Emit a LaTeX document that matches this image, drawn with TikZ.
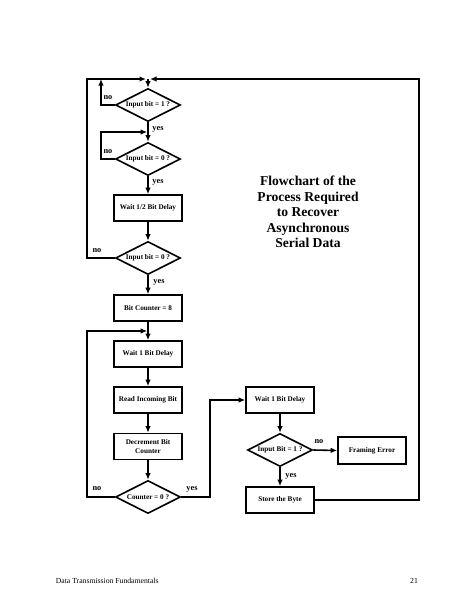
\documentclass[tikz,border=0pt]{standalone}
\usepackage{fontspec}
\setmainfont{Liberation Serif}
\usetikzlibrary{shapes.geometric,arrows.meta}
\begin{document}
\begin{tikzpicture}[x=1pt,y=-1pt,
  line width=1.6pt,
  arr/.style={-{Latex[length=6.5pt,width=5.5pt]}},
  box/.style={draw,rectangle,minimum width=68pt,minimum height=26pt,inner sep=1pt,align=center,font=\fontsize{7.2}{9}\selectfont\bfseries},
  dia/.style={draw,diamond,aspect=2,inner sep=0pt,minimum width=65pt,minimum height=33pt,font=\fontsize{7.2}{9}\selectfont\bfseries},
  lbl/.style={font=\fontsize{8.3}{10}\selectfont\bfseries,inner sep=0pt}]
\useasboundingbox (0,0) rectangle (474,613);
% main column
\coordinate (T) at (148,79);
\node[dia] (d1) at (148,105) {Input bit = 1 ?};
\coordinate (J2) at (148,132);
\node[dia] (d2) at (148,159) {Input bit = 0 ?};
\node[box] (b1) at (148,208) {Wait 1/2 Bit Delay};
\node[dia] (d3) at (148,258) {Input bit = 0 ?};
\node[box] (b2) at (148,308) {Bit Counter = 8};
\coordinate (J3) at (148,331);
\node[box] (b3) at (148,354) {Wait 1 Bit Delay};
\node[box] (b4) at (148,400) {Read Incoming Bit};
\node[box] (b5) at (148,446.5) {Decrement Bit\\Counter};
\node[dia] (d4) at (148,497) {Counter = 0 ?};
% right column
\node[box] (b6) at (280,400) {Wait 1 Bit Delay};
\node[dia] (d5) at (280,450) {Input Bit = 1 ?};
\node[box,minimum height=27pt] (b7) at (372,450.5) {Framing Error};
\node[box] (b8) at (280,500) {Store the Byte};
% connectors
\draw[arr] (T) -- (d1.north);
\draw[arr] (d1.west) -- (101,105) -- (101,79);
\draw (d1.south) -- (J2);
\draw[arr] (J2) -- (d2.north);
\draw[arr] (d2.west) -- (101,159) -- (101,132) -- ([xshift=-0.8pt]J2);
\draw[arr] (d2.south) -- (b1.north);
\draw[arr] (b1.south) -- (d3.north);
\draw[arr] (d3.west) -- (87,258) -- (87,79) -- ([xshift=-2pt]T);
\draw[arr] (d3.south) -- (b2.north);
\draw (b2.south) -- (J3);
\draw[arr] (J3) -- (b3.north);
\draw[arr] (d4.west) -- (87,497) -- (87,331) -- ([xshift=-0.8pt]J3);
\draw[arr] (b3.south) -- (b4.north);
\draw[arr] (b4.south) -- (b5.north);
\draw[arr] (b5.south) -- (d4.north);
\draw[arr] (d4.east) -- (210,497) -- (210,400) -- (b6.west);
\draw[arr] (b6.south) -- (d5.north);
\draw[arr] (d5.east) -- (b7.west);
\draw[arr] (d5.south) -- (b8.north);
\draw[arr] (b8.east) -- (419,500) -- (419,79) -- ([xshift=2pt]T);
% labels
\node[lbl] (n1) at (108,98) {no};
\node[lbl] (y1) at (158,129) {yes};
\node[lbl] (n2) at (108,152) {no};
\node[lbl] (y2) at (158,182) {yes};
\node[lbl] (n3) at (97,251) {no};
\node[lbl] (y3) at (159,282) {yes};
\node[lbl] (n4) at (97,489) {no};
\node[lbl] (y4) at (192,489) {yes};
\node[lbl] (n5) at (319,442) {no};
\node[lbl] (y5) at (291,476) {yes};
% title
\node[font=\fontsize{13.6}{15.5}\selectfont\bfseries,align=center] (title) at (308,212) {Flowchart of the\\Process Required\\to Recover\\Asynchronous\\Serial Data};
% footer
\node[font=\fontsize{7.7}{9}\selectfont,anchor=west,inner sep=0pt] (foot) at (55,581) {Data Transmission Fundamentals};
\node[font=\fontsize{7.7}{9}\selectfont,inner sep=0pt] (page) at (414,581) {21};
\end{tikzpicture}
\end{document}
